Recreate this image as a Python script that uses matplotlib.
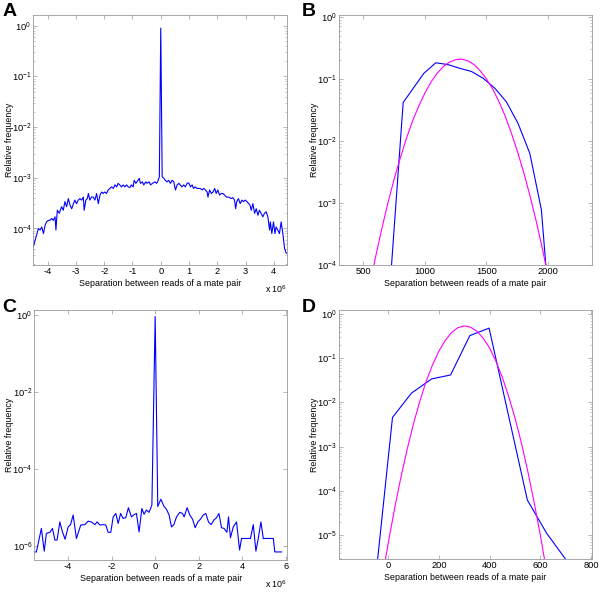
"""
Mate-pair separation histograms (A-D), log-scale relative frequency.
"""
import numpy as np
import matplotlib
matplotlib.use("Agg")
import matplotlib.pyplot as plt
from matplotlib.ticker import FixedLocator, LogFormatterMathtext, NullFormatter

plt.rcParams["font.family"] = ["Liberation Sans", "DejaVu Sans"]
plt.rcParams["mathtext.default"] = "regular"
plt.rcParams["axes.unicode_minus"] = False

# ===== Panel A: separation (x 1e6) vs log10(relative frequency) =====
sep_a = [-4.51, -4.41, -4.33, -4.27, -4.21, -4.15, -4.09, -4.04, -3.98, -3.92,
         -3.86, -3.80, -3.74, -3.71, -3.66, -3.59, -3.51, -3.45, -3.39, -3.33,
         -3.27, -3.21, -3.15, -3.09, -3.04, -2.98, -2.92, -2.86, -2.80, -2.74,
         -2.71, -2.65, -2.60, -2.56, -2.51, -2.45, -2.39, -2.33, -2.27, -2.21,
         -2.15, -2.09, -2.04, -1.98, -1.92, -1.86, -1.80, -1.74, -1.68, -1.62,
         -1.56, -1.51, -1.45, -1.39, -1.33, -1.27, -1.21, -1.15, -1.09, -1.04,
         -0.98, -0.94, -0.88, -0.84, -0.76, -0.72, -0.65, -0.60, -0.53, -0.48,
         -0.41, -0.36, -0.29, -0.21, -0.15, -0.11, -0.05, 0.0,
         0.05, 0.11, 0.16, 0.22, 0.28, 0.34, 0.40, 0.46, 0.52, 0.58,
         0.64, 0.69, 0.75, 0.81, 0.87, 0.93, 0.99, 1.05, 1.11, 1.16,
         1.22, 1.28, 1.34, 1.40, 1.46, 1.52, 1.58, 1.64, 1.67, 1.73,
         1.79, 1.85, 1.91, 1.96, 2.02, 2.08, 2.14, 2.20, 2.26, 2.32,
         2.38, 2.44, 2.49, 2.55, 2.61, 2.65, 2.69, 2.75, 2.81, 2.87,
         2.93, 2.99, 3.05, 3.11, 3.16, 3.20, 3.26, 3.32, 3.38, 3.44,
         3.49, 3.55, 3.61, 3.67, 3.73, 3.79, 3.85, 3.88, 3.93, 3.99,
         4.04, 4.08, 4.14, 4.20, 4.26, 4.32, 4.38, 4.44]
logf_a = [-4.36, -4.16, -4.00, -4.03, -3.97, -4.10, -3.93, -3.87, -3.84, -3.84,
          -3.80, -3.84, -3.77, -4.03, -3.64, -3.70, -3.57, -3.64, -3.47, -3.57,
          -3.41, -3.54, -3.61, -3.51, -3.44, -3.51, -3.44, -3.41, -3.44, -3.38,
          -3.64, -3.44, -3.41, -3.31, -3.44, -3.38, -3.38, -3.44, -3.31, -3.51,
          -3.34, -3.28, -3.31, -3.28, -3.31, -3.24, -3.21, -3.18, -3.21, -3.14,
          -3.18, -3.11, -3.14, -3.18, -3.14, -3.18, -3.14, -3.18, -3.19, -3.14,
          -3.18, -3.05, -3.11, -3.08, -3.01, -3.11, -3.08, -3.14, -3.08, -3.11,
          -3.08, -3.14, -3.11, -3.08, -3.11, -3.08, -2.98, -0.05,
          -2.98, -3.01, -3.05, -3.08, -3.05, -3.11, -3.05, -3.08, -3.24, -3.14,
          -3.11, -3.14, -3.18, -3.14, -3.18, -3.11, -3.10, -3.18, -3.14, -3.21,
          -3.18, -3.21, -3.21, -3.21, -3.24, -3.21, -3.24, -3.28, -3.38, -3.24,
          -3.31, -3.28, -3.21, -3.31, -3.24, -3.34, -3.31, -3.31, -3.34, -3.38,
          -3.38, -3.39, -3.41, -3.39, -3.44, -3.61, -3.47, -3.41, -3.51, -3.44,
          -3.47, -3.44, -3.47, -3.51, -3.54, -3.64, -3.51, -3.70, -3.61, -3.74,
          -3.64, -3.70, -3.77, -3.70, -3.67, -3.77, -4.03, -3.87, -4.10, -3.87,
          -4.10, -3.97, -4.03, -4.10, -3.87, -4.10, -4.39, -4.49]

# ===== Panel B: separation (bp), observed and fitted =====
sep_b = [715, 824, 992, 1089, 1189, 1284, 1378, 1473, 1568, 1662, 1757, 1852, 1946, 1990]
logf_b = [-4.40, -1.38, -0.91, -0.74, -0.77, -0.83, -0.88, -0.99, -1.15, -1.37,
          -1.72, -2.20, -3.11, -4.20]
fit_sep_b = [560, 600, 650, 700, 750, 800, 850, 900, 950, 1000, 1050, 1100, 1150,
             1200, 1250, 1300, 1350, 1400, 1450, 1500, 1550, 1600, 1650, 1700,
             1750, 1800, 1850, 1900, 1950, 2000]
fit_logf_b = [-4.25, -3.87, -3.42, -3.00, -2.62, -2.28, -1.96, -1.68, -1.44, -1.23,
              -1.05, -0.91, -0.80, -0.73, -0.69, -0.68, -0.71, -0.77, -0.87, -1.00,
              -1.16, -1.36, -1.59, -1.86, -2.16, -2.49, -2.86, -3.26, -3.70, -4.17]

# ===== Panel C: separation (x 1e6) vs log10(relative frequency) =====
sep_c = [-5.56, -5.46, -5.23, -5.10, -5.00, -4.84, -4.72, -4.61, -4.51, -4.38,
         -4.26, -4.14, -4.00, -3.89, -3.77, -3.62, -3.42, -3.23, -3.08, -2.93,
         -2.77, -2.67, -2.54, -2.39, -2.27, -2.16, -2.04, -1.93, -1.81, -1.70,
         -1.59, -1.47, -1.35, -1.23, -1.09, -0.97, -0.86, -0.74, -0.61, -0.51,
         -0.40, -0.28, -0.15, 0.0, 0.12, 0.26, 0.41, 0.52, 0.64, 0.75,
         0.86, 0.98, 1.13, 1.26, 1.33, 1.47, 1.59, 1.72, 1.84, 1.96,
         2.08, 2.21, 2.33, 2.45, 2.57, 2.70, 2.82, 2.93, 3.05, 3.17,
         3.30, 3.37, 3.46, 3.59, 3.74, 3.88, 3.97, 4.20, 4.38, 4.51,
         4.63, 4.74, 4.86, 4.97, 5.20, 5.43, 5.50, 5.81]
logf_c = [-6.15, -6.15, -5.54, -6.13, -5.67, -5.64, -5.54, -5.84, -5.84, -5.37,
          -5.63, -5.82, -5.50, -5.44, -5.19, -5.80, -5.45, -5.44, -5.35, -5.37,
          -5.44, -5.37, -5.45, -5.44, -5.45, -5.64, -5.64, -5.24, -5.15, -5.41,
          -5.15, -5.28, -5.26, -5.00, -5.24, -5.18, -5.15, -5.63, -5.02, -5.17,
          -5.06, -5.12, -4.93, -0.03, -4.97, -4.78, -4.97, -5.04, -5.19, -5.50,
          -5.44, -5.24, -5.12, -5.15, -5.24, -5.00, -5.19, -5.30, -5.52, -5.37,
          -5.30, -5.19, -5.15, -5.37, -5.44, -5.32, -5.26, -5.15, -5.52, -5.54,
          -5.64, -5.24, -5.78, -5.50, -5.37, -6.10, -5.80, -5.80, -5.80, -5.44,
          -6.13, -5.80, -5.37, -5.80, -5.80, -5.80, -6.15, -6.15]

# ===== Panel D: separation (bp), observed and fitted =====
sep_d = [-59, 17, 92, 171, 246, 322, 398, 474, 549, 625, 700, 720]
logf_d = [-6.50, -2.34, -1.79, -1.47, -1.38, -0.49, -0.32, -2.28, -4.21, -4.96,
          -5.55, -5.70]
fit_sep_d = [-20, 0, 25, 50, 75, 100, 125, 150, 175, 200, 225, 250, 275, 300,
             325, 350, 375, 400, 425, 450, 475, 500, 525, 550, 575, 600, 625]
fit_logf_d = [-5.86, -5.19, -4.41, -3.70, -3.06, -2.48, -1.97, -1.52, -1.15, -0.84,
              -0.60, -0.42, -0.31, -0.27, -0.30, -0.39, -0.55, -0.77, -1.07, -1.43,
              -1.86, -2.35, -2.91, -3.54, -4.24, -5.00, -5.83]

XLABEL = "Separation between reads of a mate pair"
YLABEL = "Relative frequency"
FS = 6.4       # axis labels
TICK_FS = 6.7  # tick labels
BLUE = "#0000ff"
MAGENTA = "#ff00ff"
FRAME = "0.6"


def style_axes(ax, yticks, minor=True):
    ax.set_yscale("log")
    ax.yaxis.set_major_locator(FixedLocator(yticks))
    ax.yaxis.set_major_formatter(LogFormatterMathtext())
    if minor:
        lo = int(np.floor(np.log10(min(yticks)))) - 1
        hi = int(np.ceil(np.log10(max(yticks)))) + 1
        mins = [m * 10.0 ** e for e in range(lo, hi) for m in range(2, 10)]
        ax.yaxis.set_minor_locator(FixedLocator(mins))
    else:
        ax.yaxis.set_minor_locator(FixedLocator([]))
    ax.yaxis.set_minor_formatter(NullFormatter())
    ax.tick_params(which="both", direction="in", top=True, right=True,
                   labelsize=TICK_FS, color=FRAME, pad=1.5)
    ax.tick_params(which="major", length=3, width=0.5)
    ax.tick_params(which="minor", length=1.6, width=0.4)
    for s in ax.spines.values():
        s.set_color(FRAME)
        s.set_linewidth(0.6)
    ax.set_xlabel(XLABEL, fontsize=FS, labelpad=2)
    ax.set_ylabel(YLABEL, fontsize=FS)
    ax.yaxis.set_label_coords(-0.078, 0.5)


def main():
    fig = plt.figure(figsize=(6.0, 5.95), dpi=100)

    # A
    ax = fig.add_axes([0.0555, 0.5546, 0.4225, 0.4202])
    ax.plot(sep_a, 10 ** np.array(logf_a), color=BLUE, lw=0.8)
    ax.set_xlim(-4.51, 4.46)
    ax.set_ylim(10 ** -4.72, 10 ** 0.21)
    ax.set_xticks(range(-4, 5))
    style_axes(ax, [1e-4, 1e-3, 1e-2, 1e-1, 1])
    ax.text(1.0, -0.075, r"x 10$^{6}$", transform=ax.transAxes, fontsize=FS,
            ha="right", va="top")

    # B
    ax = fig.add_axes([0.565, 0.5546, 0.4217, 0.4202])
    ax.plot(sep_b, 10 ** np.array(logf_b), color=BLUE, lw=0.8)
    ax.plot(fit_sep_b, 10 ** np.array(fit_logf_b), color=MAGENTA, lw=0.8)
    ax.set_xlim(303, 2357)
    ax.set_ylim(1e-4, 10 ** 0.03)
    ax.set_xticks([500, 1000, 1500, 2000])
    style_axes(ax, [1e-4, 1e-3, 1e-2, 1e-1, 1])

    # C
    ax = fig.add_axes([0.057, 0.0588, 0.4217, 0.4202])
    ax.plot(sep_c, 10 ** np.array(logf_c), color=BLUE, lw=0.8)
    ax.set_xlim(-5.56, 6.07)
    ax.set_ylim(10 ** -6.36, 10 ** 0.14)
    ax.set_xticks([-4, -2, 0, 2, 4, 6])
    style_axes(ax, [1e-6, 1e-4, 1e-2, 1], minor=False)
    ax.text(1.0, -0.075, r"x 10$^{6}$", transform=ax.transAxes, fontsize=FS,
            ha="right", va="top")

    # D
    ax = fig.add_axes([0.565, 0.06, 0.4217, 0.419])
    ax.plot(sep_d, 10 ** np.array(logf_d), color=BLUE, lw=0.8)
    ax.plot(fit_sep_d, 10 ** np.array(fit_logf_d), color=MAGENTA, lw=0.8)
    ax.set_xlim(-194, 804)
    ax.set_ylim(10 ** -5.55, 10 ** 0.09)
    ax.set_xticks([0, 200, 400, 600, 800])
    style_axes(ax, [1e-5, 1e-4, 1e-3, 1e-2, 1e-1, 1])

    for lab, (x, y) in zip("ABCD", [(0.004, 0.995), (0.503, 0.995),
                                    (0.004, 0.497), (0.503, 0.497)]):
        fig.text(x, y, lab, fontsize=14, fontweight="bold", ha="left", va="top")

    fig.savefig("out.png", dpi=100)
    plt.close(fig)


if __name__ == "__main__":
    main()
